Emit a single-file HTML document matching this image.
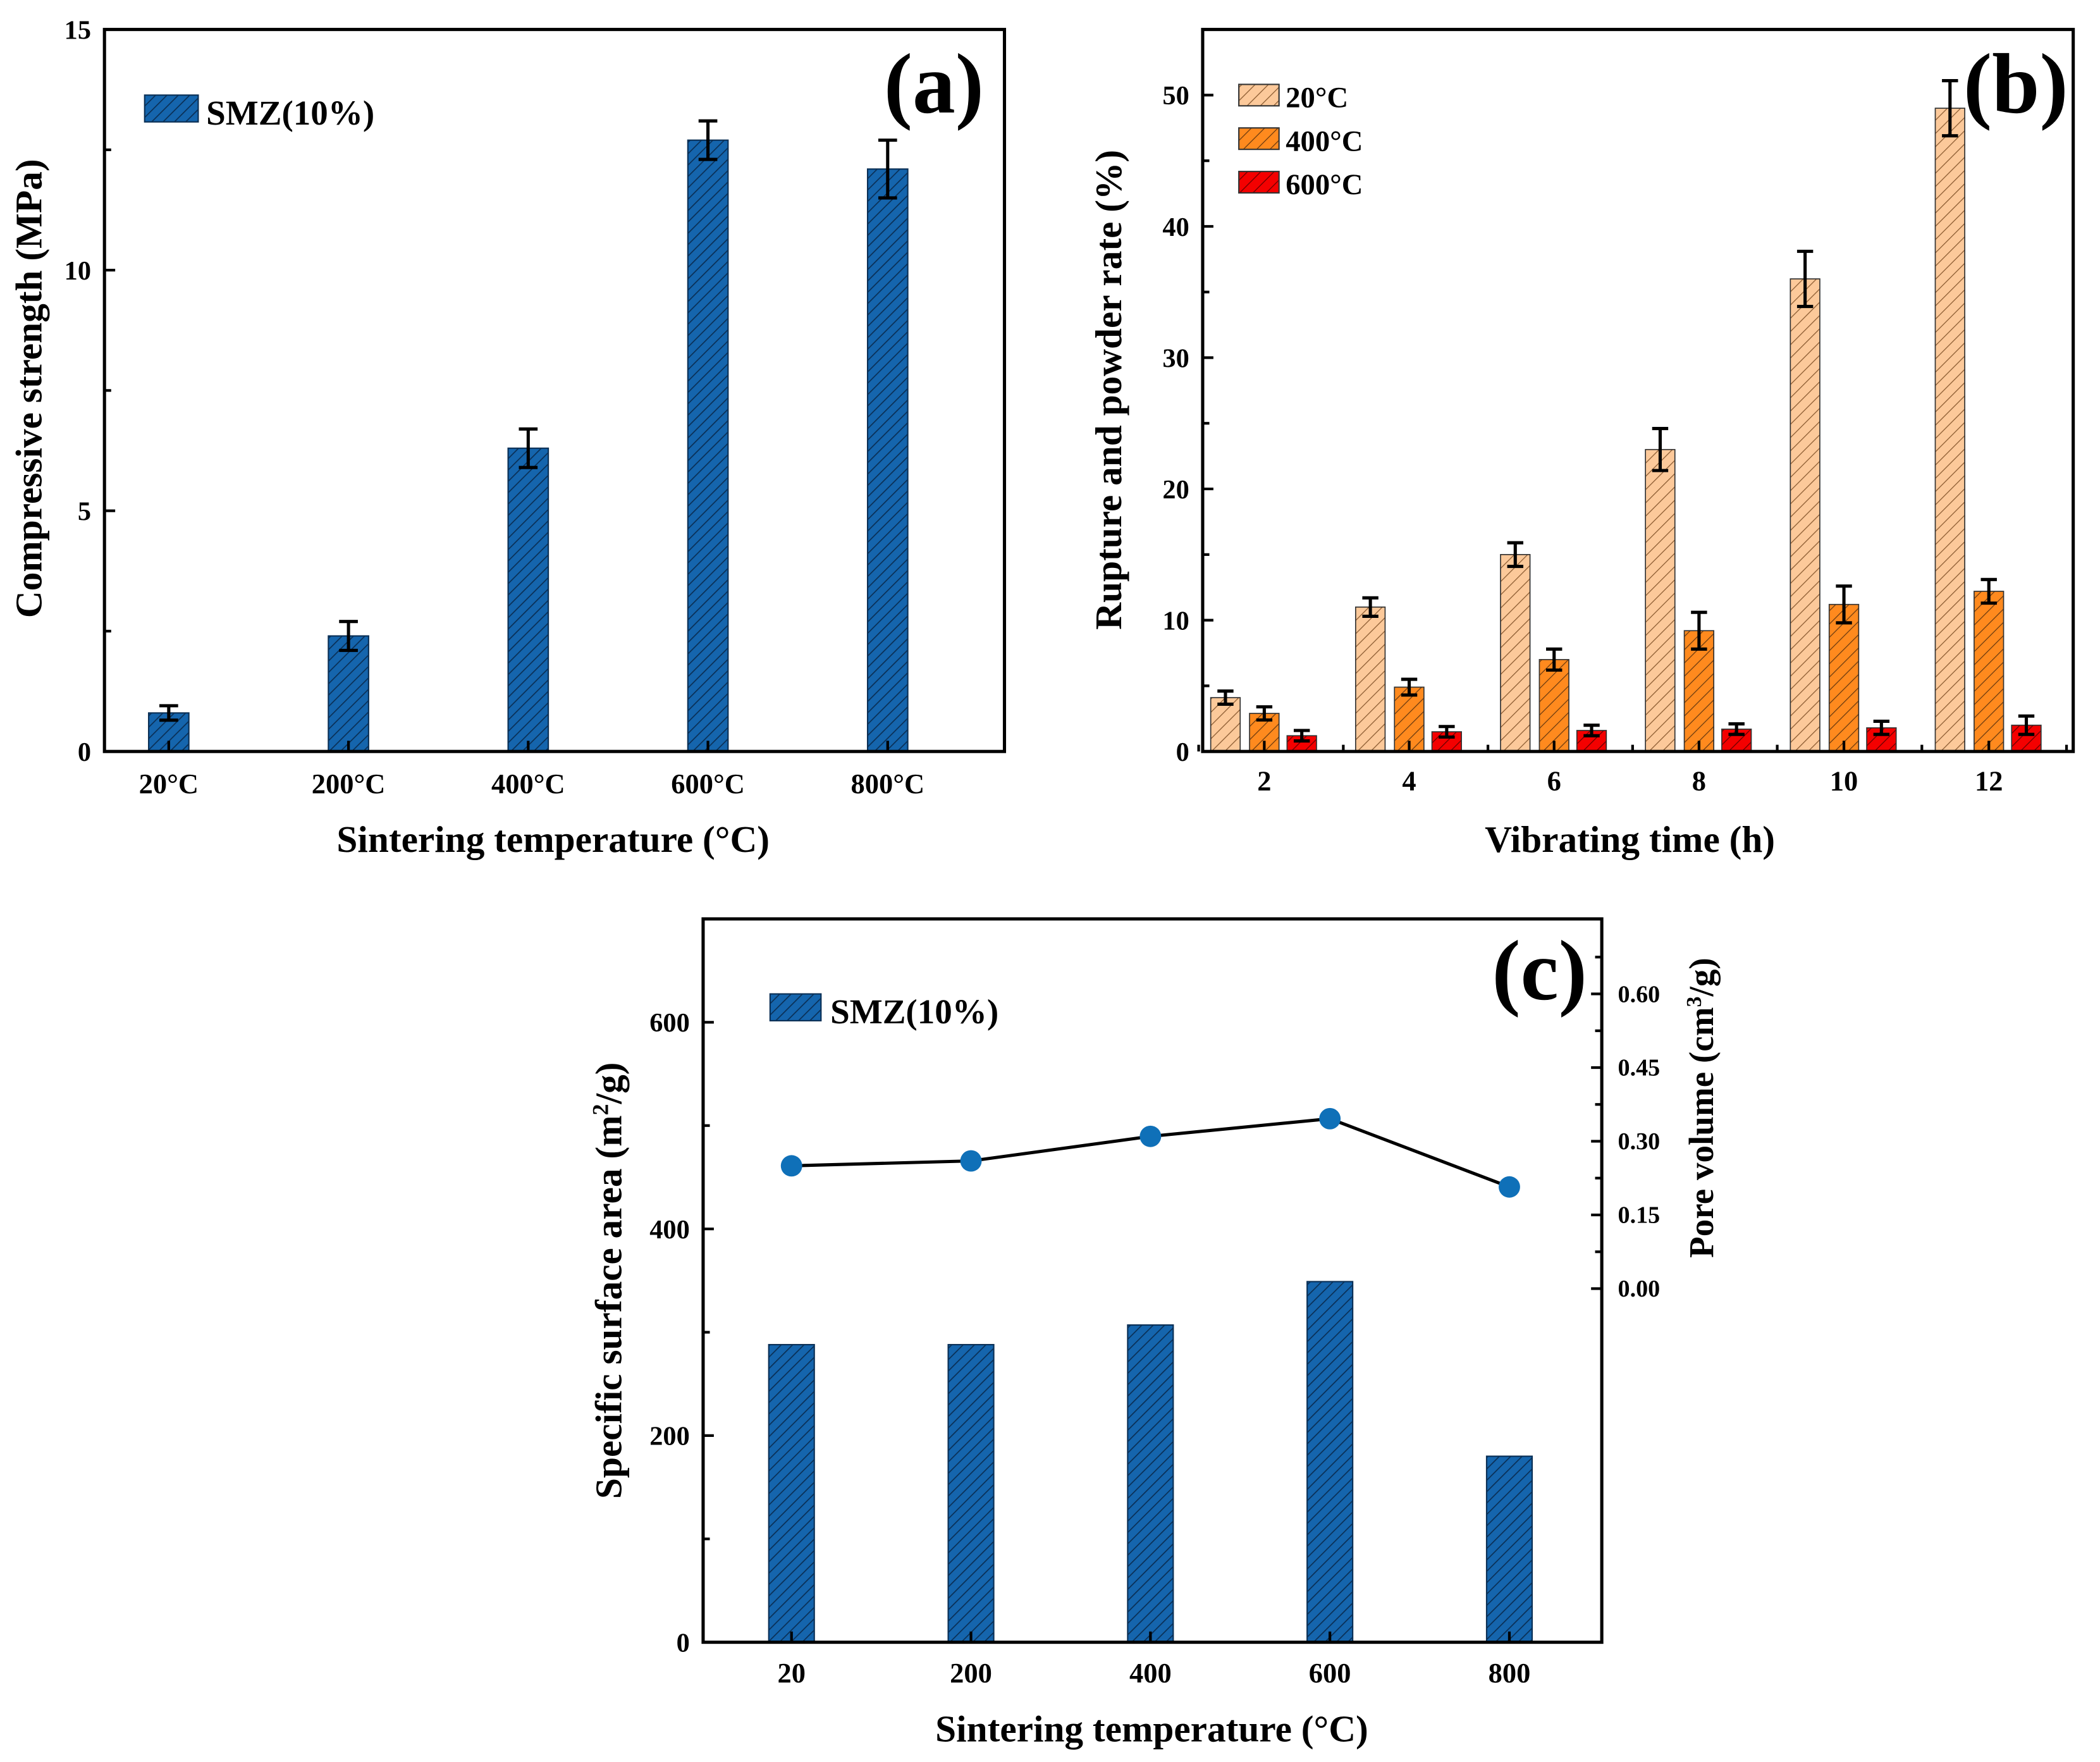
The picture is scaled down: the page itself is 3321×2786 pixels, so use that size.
<!DOCTYPE html>
<html><head><meta charset="utf-8"><style>
html,body{margin:0;padding:0;background:#fff}
svg{display:block}
text{font-family:"Liberation Serif",serif;font-weight:bold;fill:#000}
</style></head><body>
<svg id="fig" width="3321" height="2786" viewBox="0 0 1568 1315.4" xmlns="http://www.w3.org/2000/svg">
<defs>
<pattern id="hb" patternUnits="userSpaceOnUse" width="6" height="6" patternTransform="rotate(45)"><rect width="6" height="6" fill="#1565ad"/><line x1="0" y1="0" x2="0" y2="6" stroke="#0a2f55" stroke-width="1.6"/></pattern>
<pattern id="h20" patternUnits="userSpaceOnUse" width="7" height="7" patternTransform="rotate(45)"><rect width="7" height="7" fill="#fcc99a"/><line x1="0" y1="0" x2="0" y2="7" stroke="#8a5a30" stroke-width="1.2"/></pattern>
<pattern id="h400" patternUnits="userSpaceOnUse" width="7" height="7" patternTransform="rotate(45)"><rect width="7" height="7" fill="#ff8a1e"/><line x1="0" y1="0" x2="0" y2="7" stroke="#6a3a10" stroke-width="1.2"/></pattern>
<pattern id="h600" patternUnits="userSpaceOnUse" width="7" height="7" patternTransform="rotate(45)"><rect width="7" height="7" fill="#f40000"/><line x1="0" y1="0" x2="0" y2="7" stroke="#600" stroke-width="1.2"/></pattern>
</defs>
<g id="pa"></g>
<g id="pb"></g>
<g id="pc"></g>
</svg>
<script>
// Panel (a)
const aCats = ["20°C","200°C","400°C","600°C","800°C"];
const aVals = [0.8, 2.4, 6.3, 12.7, 12.1];
const aErr = [0.15, 0.3, 0.4, 0.4, 0.6];
const aTicks = [0, 5, 10, 15];
// Panel (b)
const bCats = ["2","4","6","8","10","12"];
const bSeries = ["20°C","400°C","600°C"];
const b20 = [4.1, 11, 15, 23, 36, 49];
const b400 = [2.9, 4.9, 7, 9.2, 11.2, 12.2];
const b600 = [1.2, 1.5, 1.6, 1.7, 1.8, 2.0];
const b20Err = [0.5, 0.7, 0.9, 1.6, 2.1, 2.1];
const b400Err = [0.5, 0.6, 0.8, 1.4, 1.4, 0.9];
const b600Err = [0.4, 0.4, 0.4, 0.4, 0.5, 0.7];
const bTicks = [0, 10, 20, 30, 40, 50];
// Panel (c)
const cCats = ["20","200","400","600","800"];
const cArea = [288, 288, 307, 349, 180];
const cPore = [0.25, 0.26, 0.31, 0.346, 0.207];
const cTicksL = [0, 200, 400, 600];
const cTicksR = ["0.00","0.15","0.30","0.45","0.60"];

const NS = "http://www.w3.org/2000/svg";
function mk(parent, tag, attrs, txt){
  const e = document.createElementNS(NS, tag);
  for (const k in attrs) e.setAttribute(k, attrs[k]);
  if (txt !== undefined) e.textContent = txt;
  parent.appendChild(e);
  return e;
}
function errBar(g, x, y1, y2, w){
  const e = mk(g,'path',{d:`M${x-w} ${y1}H${x+w}M${x} ${y1}V${y2}M${x-w} ${y2}H${x+w}`,stroke:'#000','stroke-width':2.4,fill:'none'});
  
  
}
function frame(g,L,R,T,B){
  const f = mk(g,'rect',{x:L,y:T,width:R-L,height:B-T,fill:'none',stroke:'#000','stroke-width':2.4});
  
  
}

// ---------- Panel a ----------
(function(){
  const g = document.getElementById('pa');
  const L=78,R=750,T=22,B=561, ymax=15;
  const y = v => B - v/ymax*(B-T);
  const x = i => 126 + i*134.2;
  aVals.forEach((v,i)=>{
    const r = mk(g,'rect',{x:x(i)-15,y:y(v),width:30,height:B-y(v),fill:'url(#hb)',stroke:'#0a2f55','stroke-width':1});
    
    
    errBar(g,x(i),y(v+aErr[i]),y(v-aErr[i]),7);
  });
  frame(g,L,R,T,B);
  aTicks.forEach(t=>{
    mk(g,'line',{x1:L,x2:L+8,y1:y(t),y2:y(t),stroke:'#000','stroke-width':2});
    const tl = mk(g,'text',{x:L-10,y:y(t)+7,'text-anchor':'end','font-size':20},t);
    
    
  });
  [2.5,7.5,12.5].forEach(t=>mk(g,'line',{x1:L,x2:L+5,y1:y(t),y2:y(t),stroke:'#000','stroke-width':2}));
  aCats.forEach((c,i)=>{
    mk(g,'line',{x1:x(i),x2:x(i),y1:B,y2:B-8,stroke:'#000','stroke-width':2});
    const tl = mk(g,'text',{x:x(i),y:592,'text-anchor':'middle','font-size':21},c);
    
    
  });
})();
// ---------- Panel b ----------
(function(){
  const g = document.getElementById('pb');
  const L=898,R=1548,T=22,B=561, ymax=55;
  const y = v => B - v/ymax*(B-T);
  const x = i => 944 + i*108.2;
  const series=[[b20,b20Err,'#h20',-29],[b400,b400Err,'#h400',0],[b600,b600Err,'#h600',28]];
  series.forEach((s,si)=>{
    s[0].forEach((v,i)=>{
      const cx = x(i)+s[3];
      const r = mk(g,'rect',{x:cx-11,y:y(v),width:22,height:B-y(v),fill:'url('+s[2]+')',stroke:'#333','stroke-width':0.8});
      
      
      errBar(g,cx,y(v+s[1][i]),y(v-s[1][i]),6);
    });
  });
  frame(g,L,R,T,B);
  bTicks.forEach(t=>{
    mk(g,'line',{x1:L,x2:L+8,y1:y(t),y2:y(t),stroke:'#000','stroke-width':2});
    const tl = mk(g,'text',{x:L-10,y:y(t)+7,'text-anchor':'end','font-size':20},t);
    
    
  });
  [5,15,25,35,45].forEach(t=>mk(g,'line',{x1:L,x2:L+5,y1:y(t),y2:y(t),stroke:'#000','stroke-width':2}));
  bCats.forEach((c,i)=>{
    mk(g,'line',{x1:x(i),x2:x(i),y1:B,y2:B-8,stroke:'#000','stroke-width':2});
    const tl = mk(g,'text',{x:x(i),y:590,'text-anchor':'middle','font-size':21},c);
    
    
  });
  [895,1003,1111,1219,1327,1435,1543].forEach(v=>mk(g,'line',{x1:v,x2:v,y1:B,y2:B-5,stroke:'#000','stroke-width':2}));
  const fills=['#h20','#h400','#h600'];
  bSeries.forEach((s,i)=>{
    const yy=63+i*32.5;
    const r=mk(g,'rect',{x:925,y:yy,width:30,height:16,fill:'url('+fills[i]+')',stroke:'#333','stroke-width':1});
    
    
    const t=mk(g,'text',{x:960,y:yy+17,'font-size':22},s);
    
    
  });
})();
// ---------- Panel c ----------
(function(){
  const g = document.getElementById('pc');
  const L=525,R=1196,T=686,B=1226;
  const y = v => B - v/700*(B-T);
  const yr = v => 962 - v/0.15*55;
  const x = i => 591 + i*134;
  cArea.forEach((v,i)=>{
    const r=mk(g,'rect',{x:x(i)-17,y:y(v),width:34,height:B-y(v),fill:'url(#hb)',stroke:'#0a2f55','stroke-width':1});
    
    
  });
  const pts = cPore.map((v,i)=>x(i)+','+yr(v)).join(' ');
  const pl = mk(g,'polyline',{points:pts,fill:'none',stroke:'#000','stroke-width':2.4});
  
  
  cPore.forEach((v,i)=>{
    const c=mk(g,'circle',{cx:x(i),cy:yr(v),r:8,fill:'#0f70b8'});
    
    
  });
  frame(g,L,R,T,B);
  cTicksL.forEach(t=>{
    mk(g,'line',{x1:L,x2:L+8,y1:y(t),y2:y(t),stroke:'#000','stroke-width':2});
    const tl=mk(g,'text',{x:L-10,y:y(t)+7,'text-anchor':'end','font-size':20},t);
    
    
  });
  [100,300,500].forEach(t=>mk(g,'line',{x1:L,x2:L+5,y1:y(t),y2:y(t),stroke:'#000','stroke-width':2}));
  cTicksR.forEach(t=>{
    const yy=yr(parseFloat(t));
    mk(g,'line',{x1:R,x2:R-8,y1:yy,y2:yy,stroke:'#000','stroke-width':2});
    const tl=mk(g,'text',{x:R+12,y:yy+6,'font-size':18},t);
    
    
  });
  [0.075,0.225,0.375,0.525,0.675].forEach(t=>mk(g,'line',{x1:R,x2:R-5,y1:yr(t),y2:yr(t),stroke:'#000','stroke-width':2}));
  cCats.forEach((c,i)=>{
    mk(g,'line',{x1:x(i),x2:x(i),y1:B,y2:B-8,stroke:'#000','stroke-width':2});
    const tl=mk(g,'text',{x:x(i),y:1256,'text-anchor':'middle','font-size':21},c);
    
    
  });
})();
</script>
<svg style="position:absolute;left:0;top:0" width="3321" height="2786" viewBox="0 0 1568 1315.4" xmlns="http://www.w3.org/2000/svg">
<g>
<rect x="108" y="71" width="40" height="20" fill="url(#hb)" stroke="#0a2f55"/>
<text x="154" y="93" font-size="26">SMZ(10%)</text>
<text x="660" y="84" font-size="64">(a)</text>
<text transform="translate(31,290) rotate(-90)" text-anchor="middle" font-size="28">Compressive strength (MPa)</text>
<text x="413" y="636" text-anchor="middle" font-size="28">Sintering temperature (°C)</text>
</g>
<g>
<text x="1466" y="84" font-size="64">(b)</text>
<text transform="translate(837,291) rotate(-90)" text-anchor="middle" font-size="28">Rupture and powder rate (%)</text>
<text x="1217" y="636" text-anchor="middle" font-size="28">Vibrating time (h)</text>
</g>
<g>
<rect x="575" y="742" width="38" height="20" fill="url(#hb)" stroke="#0a2f55"/>
<text x="620" y="764" font-size="26">SMZ(10%)</text>
<text x="1114" y="746" font-size="64">(c)</text>
<text transform="translate(464,956) rotate(-90)" text-anchor="middle" font-size="28">Specific surface area (m<tspan font-size="17" dy="-10">2</tspan><tspan dy="10">/g)</tspan></text>
<text transform="translate(1279,827) rotate(-90)" text-anchor="middle" font-size="26">Pore volume (cm<tspan font-size="16" dy="-9">3</tspan><tspan dy="9">/g)</tspan></text>
<text x="860" y="1300" text-anchor="middle" font-size="28">Sintering temperature (°C)</text>
</g>
</svg>
</body></html>
